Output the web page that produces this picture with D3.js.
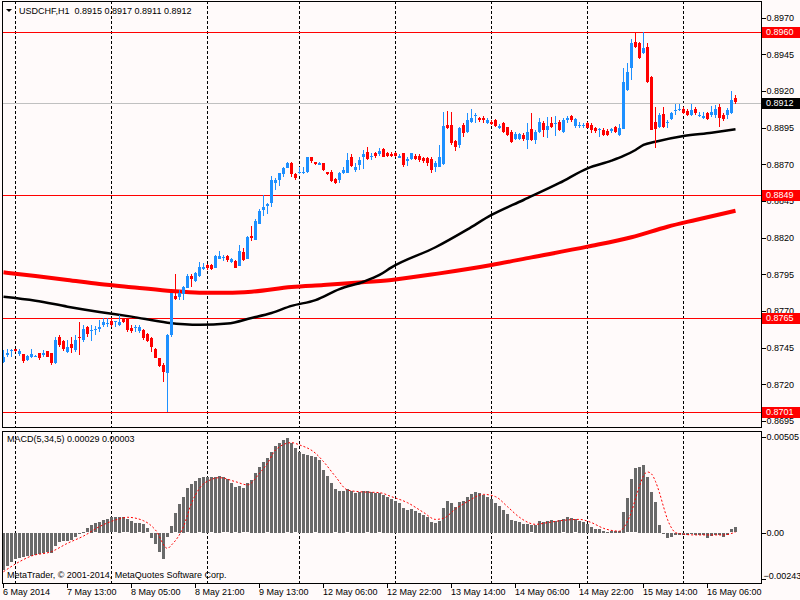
<!DOCTYPE html>
<html>
<head>
<meta charset="utf-8">
<script src="https://cdn.jsdelivr.net/npm/d3@7"></script>
<style>
html, body { margin: 0; padding: 0; background: #fffafa; }
svg { display: block; }
</style>
</head>
<body>
<div id="chart"></div>
<script>
// USDCHF H1, bars from 6 May 21:00 to 16 May 13:00
const open = [
  0.87355,0.87400,0.87425,0.87439,0.87407,0.87407,0.87366,0.87389,0.87389,0.87412,
  0.87400,0.87427,0.87412,0.87344,0.87521,0.87496,0.87423,0.87475,0.87434,0.87521,
  0.87503,0.87589,0.87566,0.87566,0.87580,0.87607,0.87616,0.87632,0.87625,0.87605,
  0.87650,0.87643,0.87584,0.87580,0.87564,0.87571,0.87543,0.87514,0.87441,0.87378,
  0.87332,0.87275,0.87537,0.87802,0.87793,0.87816,0.87862,0.87941,0.87900,0.87939,
  0.87991,0.88014,0.88014,0.87996,0.88055,0.88062,0.88075,0.88034,0.88041,0.88009,
  0.88105,0.88055,0.88212,0.88184,0.88293,0.88384,0.88416,0.88439,0.88575,0.88593,
  0.88639,0.88680,0.88707,0.88632,0.88646,0.88643,0.88648,0.88748,0.88714,0.88698,
  0.88707,0.88648,0.88650,0.88600,0.88593,0.88639,0.88643,0.88748,0.88661,0.88696,
  0.88748,0.88786,0.88755,0.88775,0.88771,0.88807,0.88775,0.88770,0.88775,0.88746,
  0.88775,0.88718,0.88736,0.88759,0.88759,0.88741,0.88741,0.88734,0.88680,0.88684,
  0.88702,0.88968,0.88968,0.88859,0.88832,0.88968,0.88923,0.88984,0.89034,0.89014,
  0.89014,0.88980,0.88991,0.89002,0.88946,0.88984,0.88953,0.88923,0.88870,0.88873,
  0.88900,0.88870,0.88939,0.88870,0.88923,0.88984,0.88934,0.88984,0.88975,0.88991,
  0.88923,0.88998,0.89030,0.88957,0.88962,0.88962,0.88984,0.88968,0.88946,0.88930,
  0.88934,0.88930,0.88923,0.88957,0.88900,0.88945,0.89207,0.89354,0.89536,0.89529,
  0.89457,0.89502,0.89298,0.88991,0.88952,0.89043,0.88982,0.89007,0.89066,0.89070,
  0.89075,0.89066,0.89036,0.89075,0.89034,0.89016,0.89048,0.89036,0.89036,0.89089,
  0.89036,0.89036,0.89048,0.89150
];
const high = [
  0.87434,0.87439,0.87443,0.87443,0.87443,0.87410,0.87400,0.87439,0.87402,0.87414,
  0.87434,0.87430,0.87414,0.87521,0.87537,0.87500,0.87503,0.87521,0.87537,0.87628,
  0.87605,0.87598,0.87605,0.87598,0.87639,0.87650,0.87650,0.87650,0.87634,0.87671,
  0.87655,0.87648,0.87605,0.87605,0.87605,0.87575,0.87548,0.87525,0.87445,0.87382,
  0.87344,0.87541,0.87825,0.87952,0.87843,0.87871,0.87952,0.87952,0.87969,0.88034,
  0.88025,0.88018,0.88018,0.88082,0.88112,0.88082,0.88080,0.88059,0.88045,0.88150,
  0.88128,0.88212,0.88280,0.88325,0.88393,0.88491,0.88434,0.88621,0.88605,0.88643,
  0.88684,0.88714,0.88714,0.88643,0.88684,0.88680,0.88752,0.88752,0.88718,0.88718,
  0.88711,0.88650,0.88661,0.88605,0.88650,0.88680,0.88775,0.88771,0.88707,0.88748,
  0.88798,0.88816,0.88775,0.88786,0.88809,0.88809,0.88786,0.88786,0.88786,0.88770,
  0.88780,0.88753,0.88780,0.88770,0.88770,0.88753,0.88753,0.88753,0.88725,0.88832,
  0.89059,0.89066,0.89059,0.88866,0.88953,0.88980,0.89052,0.89075,0.89052,0.89025,
  0.89030,0.89014,0.89002,0.89007,0.88975,0.88991,0.88957,0.88934,0.88923,0.88916,
  0.88916,0.88980,0.89052,0.88934,0.89014,0.88998,0.89025,0.89021,0.89030,0.89002,
  0.89014,0.89030,0.89036,0.89014,0.88989,0.88984,0.88991,0.88980,0.88953,0.88946,
  0.88946,0.88939,0.88945,0.88962,0.88975,0.89354,0.89389,0.89552,0.89597,0.89536,
  0.89600,0.89525,0.89302,0.89089,0.89048,0.89089,0.89002,0.89055,0.89111,0.89111,
  0.89089,0.89075,0.89111,0.89089,0.89057,0.89057,0.89059,0.89098,0.89104,0.89111,
  0.89048,0.89082,0.89202,0.89170
];
const low = [
  0.87344,0.87384,0.87389,0.87418,0.87393,0.87348,0.87360,0.87378,0.87384,0.87366,
  0.87389,0.87385,0.87332,0.87339,0.87457,0.87430,0.87412,0.87412,0.87423,0.87400,
  0.87491,0.87521,0.87498,0.87537,0.87559,0.87593,0.87589,0.87593,0.87589,0.87598,
  0.87616,0.87560,0.87553,0.87559,0.87553,0.87503,0.87490,0.87423,0.87378,0.87316,
  0.87219,0.87010,0.87521,0.87775,0.87775,0.87775,0.87855,0.87862,0.87896,0.87934,
  0.87980,0.87980,0.87980,0.87994,0.88053,0.88044,0.88037,0.88030,0.87994,0.88007,
  0.88041,0.88053,0.88180,0.88182,0.88291,0.88348,0.88362,0.88407,0.88525,0.88552,
  0.88616,0.88673,0.88616,0.88593,0.88634,0.88634,0.88643,0.88711,0.88693,0.88693,
  0.88653,0.88630,0.88577,0.88566,0.88571,0.88632,0.88639,0.88680,0.88650,0.88661,
  0.88666,0.88730,0.88730,0.88741,0.88757,0.88748,0.88748,0.88748,0.88748,0.88741,
  0.88684,0.88689,0.88730,0.88730,0.88718,0.88711,0.88689,0.88639,0.88650,0.88680,
  0.88696,0.88939,0.88832,0.88793,0.88809,0.88889,0.88916,0.88980,0.88980,0.88991,
  0.88984,0.88975,0.88968,0.88953,0.88939,0.88916,0.88895,0.88848,0.88866,0.88866,
  0.88862,0.88803,0.88862,0.88839,0.88916,0.88889,0.88877,0.88950,0.88893,0.88930,
  0.88911,0.88980,0.88991,0.88946,0.88946,0.88946,0.88946,0.88916,0.88916,0.88889,
  0.88893,0.88893,0.88916,0.88916,0.88893,0.88939,0.89202,0.89275,0.89491,0.89416,
  0.89452,0.89257,0.88934,0.88809,0.88945,0.88945,0.88945,0.89002,0.89036,0.89066,
  0.89043,0.89030,0.89030,0.89036,0.89025,0.89009,0.89002,0.89025,0.89016,0.88957,
  0.88998,0.89007,0.89043,0.89110
];
const close = [
  0.87389,0.87412,0.87432,0.87423,0.87427,0.87362,0.87393,0.87407,0.87393,0.87380,
  0.87416,0.87389,0.87344,0.87503,0.87468,0.87439,0.87457,0.87446,0.87503,0.87512,
  0.87575,0.87543,0.87571,0.87575,0.87591,0.87625,0.87621,0.87603,0.87630,0.87625,
  0.87621,0.87566,0.87566,0.87589,0.87593,0.87518,0.87498,0.87450,0.87382,0.87321,
  0.87282,0.87537,0.87821,0.87780,0.87821,0.87866,0.87941,0.87919,0.87957,0.88003,
  0.88003,0.87991,0.87987,0.88075,0.88075,0.88066,0.88048,0.88053,0.87996,0.88112,
  0.88048,0.88207,0.88196,0.88316,0.88382,0.88407,0.88430,0.88593,0.88593,0.88639,
  0.88677,0.88711,0.88634,0.88605,0.88650,0.88650,0.88748,0.88718,0.88700,0.88709,
  0.88657,0.88634,0.88586,0.88575,0.88643,0.88661,0.88730,0.88684,0.88684,0.88730,
  0.88771,0.88741,0.88759,0.88752,0.88789,0.88752,0.88752,0.88753,0.88753,0.88759,
  0.88696,0.88734,0.88775,0.88736,0.88734,0.88718,0.88707,0.88657,0.88707,0.88753,
  0.88962,0.88946,0.88843,0.88816,0.88946,0.88911,0.89002,0.89014,0.89039,0.88998,
  0.88998,0.89002,0.88975,0.88962,0.88962,0.88923,0.88900,0.88855,0.88907,0.88907,
  0.88870,0.88923,0.88866,0.88923,0.88991,0.88939,0.88962,0.88957,0.88984,0.88934,
  0.89002,0.89014,0.89002,0.89007,0.88971,0.88966,0.88953,0.88934,0.88923,0.88939,
  0.88900,0.88900,0.88939,0.88923,0.88945,0.89264,0.89332,0.89525,0.89502,0.89429,
  0.89491,0.89264,0.88939,0.88945,0.89036,0.88957,0.88986,0.89048,0.89070,0.89075,
  0.89048,0.89036,0.89070,0.89048,0.89039,0.89032,0.89007,0.89059,0.89075,0.89016,
  0.89007,0.89070,0.89138,0.89120
];

// moving averages, read at some bars: [bar, value]
const maBlack = [
  [0,0.87798],[8,0.87771],[16,0.87730],[24,0.87694],[32,0.87662],[41,0.87621],[49,0.87607],
  [56,0.87615],[62,0.87653],[67,0.87687],[72,0.87735],[78,0.87775],[84,0.87850],[90,0.87900],
  [94,0.87946],[97,0.87998],[108,0.88135],[116,0.88257],[122,0.88355],[130,0.88457],[139,0.88573],
  [146,0.88673],[152,0.88725],[155,0.88757],[158,0.88798],[160,0.88832],[163,0.88854],
  [170,0.88893],[177,0.88916],[183,0.88939]
];
const maRed = [
  [0,0.87964],[8,0.87939],[16,0.87912],[24,0.87884],[32,0.87862],[41,0.87839],[49,0.87825],
  [56,0.87825],[62,0.87832],[72,0.87864],[80,0.87878],[88,0.87893],[97,0.87912],[109,0.87957],
  [122,0.88014],[132,0.88066],[146,0.88139],[157,0.88203],[166,0.88275],[173,0.88321],[183,0.88384]
];

// MACD(5,34,5) histogram, one value per bar
const macd = [
  -0.00197,-0.00176,-0.00153,-0.00135,-0.00130,-0.00127,-0.00123,-0.00120,-0.00116,-0.00109,
  -0.00106,-0.00102,-0.00106,-0.00070,-0.00047,-0.00042,-0.00042,-0.00035,-0.00021,-0.00007,
  0.00005,0.00023,0.00040,0.00049,0.00056,0.00067,0.00074,0.00081,0.00081,0.00084,
  0.00081,0.00070,0.00063,0.00053,0.00049,0.00046,0.00023,-0.00025,-0.00060,-0.00098,
  -0.00135,-0.00020,0.00035,0.00102,0.00151,0.00190,0.00234,0.00257,0.00274,0.00287,
  0.00296,0.00296,0.00292,0.00296,0.00299,0.00292,0.00281,0.00264,0.00239,0.00246,
  0.00234,0.00260,0.00278,0.00317,0.00348,0.00375,0.00392,0.00427,0.00457,0.00475,
  0.00489,0.00498,0.00475,0.00445,0.00427,0.00415,0.00410,0.00405,0.00398,0.00383,
  0.00331,0.00299,0.00264,0.00229,0.00222,0.00222,0.00229,0.00222,0.00211,0.00216,
  0.00222,0.00218,0.00215,0.00211,0.00208,0.00199,0.00190,0.00178,0.00167,0.00158,
  0.00130,0.00120,0.00125,0.00114,0.00104,0.00093,0.00083,0.00056,0.00051,0.00063,
  0.00130,0.00167,0.00157,0.00135,0.00164,0.00167,0.00188,0.00204,0.00215,0.00211,
  0.00199,0.00188,0.00178,0.00157,0.00141,0.00120,0.00099,0.00067,0.00062,0.00056,
  0.00046,0.00046,0.00039,0.00040,0.00062,0.00058,0.00063,0.00069,0.00063,0.00067,
  0.00070,0.00083,0.00077,0.00070,0.00063,0.00058,0.00046,0.00030,0.00019,0.00019,
  0.00011,0.00004,0.00009,0.00009,0.00009,0.00109,0.00182,0.00282,0.00340,0.00348,
  0.00357,0.00296,0.00216,0.00164,0.00040,-0.00004,-0.00025,-0.00021,-0.00012,-0.00009,
  -0.00012,-0.00012,-0.00007,-0.00009,-0.00012,-0.00012,-0.00025,-0.00016,-0.00012,-0.00012,
  -0.00021,-0.00012,0.00018,0.00029
];
// signal line, read at some bars: [bar, value]
const signal = [
  [0,-0.00206],[4,-0.00153],[7,-0.00123],[12,-0.00100],[16,-0.00056],[20,-0.00018],[24,0.00032],
  [28,0.00067],[31,0.00081],[35,0.00063],[38,0.00014],[41,-0.00083],[42,-0.00065],[45,0.00032],
  [47,0.00155],[49,0.00234],[52,0.00281],[54,0.00290],[58,0.00269],[61,0.00252],[64,0.00313],
  [66,0.00366],[68,0.00436],[72,0.00475],[74,0.00463],[78,0.00419],[80,0.00375],[83,0.00296],
  [86,0.00225],[89,0.00216],[94,0.00211],[97,0.00190],[101,0.00158],[105,0.00107],[108,0.00070],
  [110,0.00076],[113,0.00125],[116,0.00164],[120,0.00202],[123,0.00190],[126,0.00137],[129,0.00081],
  [133,0.00044],[136,0.00053],[140,0.00065],[144,0.00070],[147,0.00053],[150,0.00023],[154,0.00008],
  [155,0.00025],[156,0.00060],[157,0.00110],[158,0.00180],[159,0.00245],[160,0.00300],[161,0.00320],
  [162,0.00310],[163,0.00270],[164,0.00210],[165,0.00137],[166,0.00070],[167,0.00025],[168,0.00000],
  [169,-0.00005],[173,-0.00012],[177,-0.00012],[180,-0.00012],[183,0.00003]
];

const levels = [0.8960, 0.8849, 0.8765, 0.8701];
const bid = 0.8912;
const priceTicks = [0.8970,0.8945,0.8920,0.8895,0.8870,0.8845,0.8820,0.8795,0.8770,0.8745,0.8720,0.8695];
const macdTicks = [0.00505, 0, -0.00243];
const dayStarts = [3, 27, 51, 74, 98, 122, 146, 170];
const timeIdx = [0, 16, 32, 48, 64, 80, 96, 112, 128, 144, 160, 176];
const timeLabels = ["6 May 2014","7 May 13:00","8 May 05:00","8 May 21:00","9 May 13:00","12 May 06:00",
  "12 May 22:00","13 May 14:00","14 May 06:00","14 May 22:00","15 May 14:00","16 May 06:00"];

const W = 800, H = 600;
const left = 2, right = 761;
const mainTop = 1, mainBottom = 427, subTop = 430.7, subBottom = 582.5;
const font = "'Liberation Sans', Arial, sans-serif";

const svg = d3.select("#chart").append("svg")
    .attr("width", W)
    .attr("height", H)
    .style("font-family", font);

svg.append("rect").attr("width", W).attr("height", H).attr("fill", "#fffafa");

const x = d3.scaleLinear().domain([0, open.length - 1]).range([3.5, 3.5 + 4 * (open.length - 1)]);
const y = d3.scaleLinear().domain([0.869098, 0.898065]).range([mainBottom, 2]);
const ym = d3.scaleLinear().domain([-0.00263, 0.00538]).range([subBottom, subTop]);
const crisp = v => Math.round(v) + 0.5;

svg.append("clipPath").attr("id", "clipMain").append("rect")
    .attr("x", left).attr("y", mainTop).attr("width", right - left).attr("height", mainBottom - mainTop);
svg.append("clipPath").attr("id", "clipSub").append("rect")
    .attr("x", left).attr("y", subTop).attr("width", right - left).attr("height", subBottom - subTop);

// day grid
[[mainTop, mainBottom], [subTop, subBottom]].forEach(([a, b]) => {
    svg.append("g").selectAll("line")
        .data(dayStarts)
        .enter()
        .append("line")
        .attr("x1", d => crisp(x(d) - 0.5)).attr("x2", d => crisp(x(d) - 0.5))
        .attr("y1", a).attr("y2", b)
        .attr("stroke", "#000")
        .attr("stroke-dasharray", "3,2")
        .attr("shape-rendering", "crispEdges");
});

const main = svg.append("g").attr("clip-path", "url(#clipMain)");

// bid line and horizontal levels
main.append("line")
    .attr("x1", left).attr("x2", right)
    .attr("y1", crisp(y(bid))).attr("y2", crisp(y(bid)))
    .attr("stroke", "#c0c0c0").attr("shape-rendering", "crispEdges");

main.selectAll(".level")
    .data(levels)
    .enter()
    .append("line")
    .attr("x1", left).attr("x2", right)
    .attr("y1", d => crisp(y(d))).attr("y2", d => crisp(y(d)))
    .attr("stroke", "#ff0000").attr("shape-rendering", "crispEdges");

// moving averages
const maLine = d3.line().x(d => x(d[0])).y(d => y(d[1])).curve(d3.curveMonotoneX);
main.append("path").attr("d", maLine(maRed))
    .attr("fill", "none").attr("stroke", "#ff0000").attr("stroke-width", 4);
main.append("path").attr("d", maLine(maBlack))
    .attr("fill", "none").attr("stroke", "#000").attr("stroke-width", 2.5);

// candles
const idx = d3.range(open.length);
const col = i => close[i] >= open[i] ? "#1e90ff" : "#ff0000";

main.selectAll(".wick")
    .data(idx)
    .enter()
    .append("line")
    .attr("x1", i => x(i)).attr("x2", i => x(i))
    .attr("y1", i => y(high[i])).attr("y2", i => y(low[i]))
    .attr("stroke", col)
    .attr("shape-rendering", "crispEdges");

main.selectAll(".body")
    .data(idx)
    .enter()
    .append("rect")
    .attr("x", i => x(i) - 1.5)
    .attr("width", 3)
    .attr("y", i => Math.round(y(Math.max(open[i], close[i]))))
    .attr("height", i => Math.max(1, Math.round(Math.abs(y(open[i]) - y(close[i])))))
    .attr("fill", col)
    .attr("shape-rendering", "crispEdges");

// MACD panel
const sub = svg.append("g").attr("clip-path", "url(#clipSub)");
sub.selectAll(".hist")
    .data(idx)
    .enter()
    .append("rect")
    .attr("x", i => x(i) - 1.5)
    .attr("width", 3)
    .attr("y", i => Math.round(ym(Math.max(0, macd[i]))))
    .attr("height", i => Math.max(1, Math.round(Math.abs(ym(macd[i]) - ym(0)))))
    .attr("fill", "#696969")
    .attr("shape-rendering", "crispEdges");

sub.append("path")
    .attr("d", d3.line().x(d => x(d[0])).y(d => ym(d[1])).curve(d3.curveMonotoneX)(signal))
    .attr("fill", "none")
    .attr("stroke", "#ff0000")
    .attr("stroke-width", 1)
    .attr("stroke-dasharray", "2,2");

// frames
svg.append("rect").attr("x", left + 0.5).attr("y", mainTop + 0.5)
    .attr("width", right - left).attr("height", mainBottom - mainTop)
    .attr("fill", "none").attr("stroke", "#000").attr("shape-rendering", "crispEdges");
svg.append("rect").attr("x", left + 0.5).attr("y", Math.round(subTop) + 0.5)
    .attr("width", right - left).attr("height", Math.round(subBottom) - Math.round(subTop))
    .attr("fill", "none").attr("stroke", "#000").attr("shape-rendering", "crispEdges");

// price axis
const styleAxis = g => {
    g.attr("font-family", font).attr("font-size", 9);
    g.select(".domain").remove();
    g.selectAll(".tick line").attr("stroke", "#000").attr("shape-rendering", "crispEdges");
    g.selectAll(".tick text").attr("fill", "#000");
};

svg.append("g")
    .attr("transform", "translate(" + (right + 0.5) + ",0)")
    .call(d3.axisRight(y).tickValues(priceTicks).tickSize(4).tickFormat(d3.format(".4f")))
    .call(styleAxis)
    .call(g => g.selectAll(".tick text").attr("x", 5));

svg.append("g")
    .attr("transform", "translate(" + (right + 0.5) + ",0)")
    .call(d3.axisRight(ym).tickValues(macdTicks).tickSize(4)
        .tickFormat(d => d === 0 ? "0.00" : d3.format(".5f")(d)))
    .call(styleAxis)
    .call(g => g.selectAll(".tick text")
        .attr("x", d => d < 0 ? 2 : 5)
        .attr("dy", d => d < 0 ? "-0.05em" : "0.32em"));

// price flags
const flags = levels.map(v => ({ v: v, bg: "#ff0000" })).concat([{ v: bid, bg: "#000" }]);
const flag = svg.append("g").selectAll("g")
    .data(flags)
    .enter()
    .append("g")
    .attr("transform", d => "translate(0," + Math.round(y(d.v)) + ")");
flag.append("rect")
    .attr("x", right + 1).attr("y", -5).attr("width", W - right - 1).attr("height", 11)
    .attr("fill", d => d.bg);
flag.append("text")
    .attr("x", right + 5).attr("y", 0).attr("dy", "0.36em")
    .attr("fill", "#fff").attr("font-size", 9)
    .text(d => d3.format(".4f")(d.v));

// time axis
svg.append("g")
    .attr("transform", "translate(0," + (Math.round(subBottom) + 0.5) + ")")
    .call(d3.axisBottom(x).tickValues(timeIdx).tickSize(4).tickFormat((d, i) => timeLabels[i]))
    .call(styleAxis)
    .call(g => g.selectAll(".tick line").attr("transform", "translate(-0.5,0)"))
    .call(g => g.selectAll(".tick text").attr("text-anchor", "start").attr("x", -1).attr("y", 5));

// captions
svg.append("path").attr("d", "M6,9L12,9L9,12Z").attr("fill", "#000");
svg.append("text").attr("x", 19).attr("y", 14).attr("font-size", 9).attr("fill", "#000")
    .attr("xml:space", "preserve")
    .text("USDCHF,H1  0.8915 0.8917 0.8911 0.8912");
svg.append("text").attr("x", 7).attr("y", 442).attr("font-size", 9).attr("fill", "#000")
    .text("MACD(5,34,5) 0.00029 0.00003");
svg.append("text").attr("x", 7).attr("y", 578).attr("font-size", 9).attr("fill", "#000")
    .text("MetaTrader, \u00a9 2001-2014, MetaQuotes Software Corp.");
</script>
</body>
</html>
